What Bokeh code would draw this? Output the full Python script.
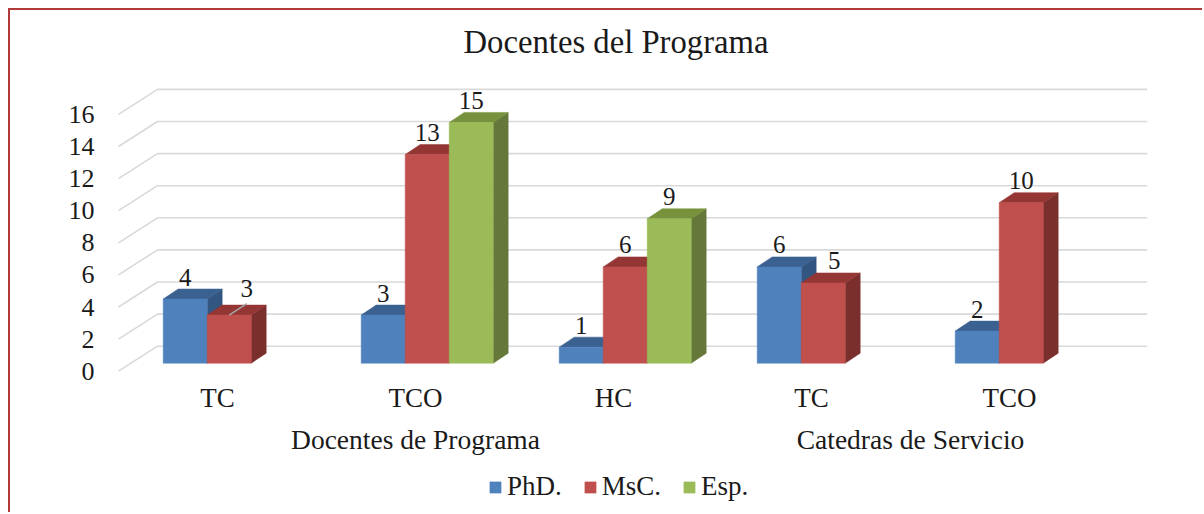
from bokeh.plotting import figure
from bokeh.embed import file_html
from bokeh.resources import INLINE
from bokeh.core.properties import value
from bokeh.models import FixedTicker, Legend, LegendItem, LinearAxis

# ---- data
title_text = "Docentes del Programa"
categories = ["TC", "TCO", "HC", "TC", "TCO"]
parents = ["Docentes de Programa", "Catedras de Servicio"]
parent_spans = [(0, 2), (3, 4)]
series = ["PhD.", "MsC.", "Esp."]
phd = [4, 3, 1, 6, 2]
msc = [3, 13, 6, 5, 10]
esp = [None, 15, 9, None, None]
y_ticks = [0, 2, 4, 6, 8, 10, 12, 14, 16]

# ---- styles
FRONT = ["#4F81BD", "#C0504D", "#9BBB59"]
TOP = ["#3A6190", "#943634", "#76923C"]
SIDE = ["#335680", "#7A2F2C", "#65783A"]
GRID = "#D9D9D9"
BORDER = "#B03A3A"
FONT = "Liberation Serif"

# ---- pixel geometry of the scales
W, H = 1194, 504
TOPB = 56
PAGE_X0, PAGE_Y0 = 10, 10
PX, PY = 198.0, 16.05        # px per category, px per unit
X0_PAGE, Y0_PAGE = 217.0, 370.7
x_start = (PAGE_X0 - X0_PAGE) / PX
x_end = (PAGE_X0 + W - X0_PAGE) / PX
y_end = (Y0_PAGE - (PAGE_Y0 + TOPB)) / PY
y_start = (Y0_PAGE - (PAGE_Y0 + H)) / PY

p = figure(width=W, height=H, output_backend="svg", toolbar_location=None,
           x_range=(x_start, x_end), y_range=(y_start, y_end),
           min_border_left=0, min_border_right=0, min_border_bottom=0, min_border_top=TOPB,
           x_axis_location=None, y_axis_location=None)
p.styles = {"border-top": f"2px solid {BORDER}", "border-left": f"2px solid {BORDER}",
            "margin-top": "8px", "margin-left": "8px"}
p.outline_line_color = None
p.background_fill_color = "white"
p.border_fill_color = "white"
p.xgrid.visible = False
p.ygrid.visible = False

p.title.text = title_text
p.title.text_font = FONT
p.title.text_font_size = "32.7px"
p.title.text_font_style = "normal"
p.title.text_color = "#1a1a1a"
p.title.align = "left"
p.title.offset = 453
p.title.standoff = 13

# ---- floor / wall gridlines
wall_dx, wall_dy = 39 / PX, 25 / PY
wall_left = (118 - X0_PAGE) / PX
wall_right = (1146.7 - X0_PAGE) / PX
p.multi_line(xs=[[wall_left, wall_left + wall_dx, wall_right] for _ in y_ticks],
             ys=[[t, t + wall_dy, t + wall_dy] for t in y_ticks],
             line_color=GRID, line_width=1.6)

# ---- 3D columns
bar_w = 44 / PX
plane_dx, plane_dy = 11.7 / PX, 8 / PY
depth_dx, depth_dy = 15 / PX, 10 / PY
front_renderers = []
tops = []
for s, vals in enumerate([phd, msc, esp]):
    idx = [i for i, v in enumerate(vals) if v is not None]
    lefts = [i + plane_dx + (s - 1.5) * bar_w for i in idx]
    rights = [l + bar_w for l in lefts]
    heights = [vals[i] for i in idx]
    bottom = plane_dy
    tv = [h + plane_dy for h in heights]
    p.patches(xs=[[r, r + depth_dx, r + depth_dx, r] for r in rights],
              ys=[[bottom, bottom + depth_dy, t + depth_dy, t] for t in tv],
              fill_color=SIDE[s], line_color=SIDE[s], line_width=0.5)
    p.patches(xs=[[l, l + depth_dx, r + depth_dx, r] for l, r in zip(lefts, rights)],
              ys=[[t, t + depth_dy, t + depth_dy, t] for t in tv],
              fill_color=TOP[s], line_color=TOP[s], line_width=0.5)
    fr = p.quad(left=lefts, right=rights, bottom=[bottom] * len(idx), top=tv,
                fill_color=FRONT[s], line_color=FRONT[s], line_width=0.5)
    front_renderers.append(fr)
    tops.append((idx, lefts, tv, heights))

# ---- data labels (some are moved aside from their column, as in the chart)
moved = {(0, 1): (17.5 / PX, 5 / PY), (3, 1): (11 / PX, 0.0)}
lab_x, lab_y, lab_t = [], [], []
for s, (idx, lefts, tv, heights) in enumerate(tops):
    for i, l, t, h in zip(idx, lefts, tv, heights):
        mx, my = moved.get((i, s), (0.0, 0.0))
        lab_x.append(l + bar_w / 2 + mx)
        lab_y.append(t + 22 / PY + my)
        lab_t.append(str(h))
        if (i, s) == (0, 1):
            p.segment(x0=[l + bar_w / 2], y0=[t], x1=[l + bar_w / 2 + mx], y1=[t + 11.5 / PY],
                      line_color="#A6A6A6", line_width=1.5)
p.text(x=lab_x, y=lab_y, text=lab_t, text_font=value(FONT), text_font_size="25px",
       text_align="center", text_baseline="middle", text_color="#1a1a1a")

# ---- axes, placed on the front edge of the floor
xa = LinearAxis(ticker=FixedTicker(ticks=list(range(len(categories)))),
                major_label_overrides={i: c for i, c in enumerate(categories)},
                fixed_location=0, axis_line_color=None, major_tick_line_color=None,
                minor_tick_line_color=None, major_label_standoff=6,
                major_label_text_font=FONT, major_label_text_font_size="27px",
                major_label_text_color="#1a1a1a")
p.add_layout(xa, "below")
ya = LinearAxis(ticker=FixedTicker(ticks=y_ticks), fixed_location=wall_left,
                axis_line_color=None, major_tick_line_color=None, minor_tick_line_color=None,
                major_label_standoff=18, major_label_text_font=FONT,
                major_label_text_font_size="26px", major_label_text_color="#1a1a1a")
p.add_layout(ya, "left")

# ---- multi-level parent labels
p.text(x=[(a + b) / 2 for a, b in parent_spans], y=[(Y0_PAGE - 439) / PY] * len(parents),
       text=parents, text_font=value(FONT), text_font_size="27.5px",
       text_align="center", text_baseline="middle", text_color="#1a1a1a")

# ---- legend
legend = Legend(items=[LegendItem(label=n, renderers=[r]) for n, r in zip(series, front_renderers)],
                orientation="horizontal", location=(478, 12),
                background_fill_alpha=0, border_line_color=None,
                glyph_width=14, glyph_height=14, label_text_font=FONT,
                label_text_font_size="27px", label_text_color="#1a1a1a",
                label_standoff=5, spacing=21, padding=0, margin=0)
p.add_layout(legend, "center")

open("out.html", "w").write(file_html(p, INLINE))
